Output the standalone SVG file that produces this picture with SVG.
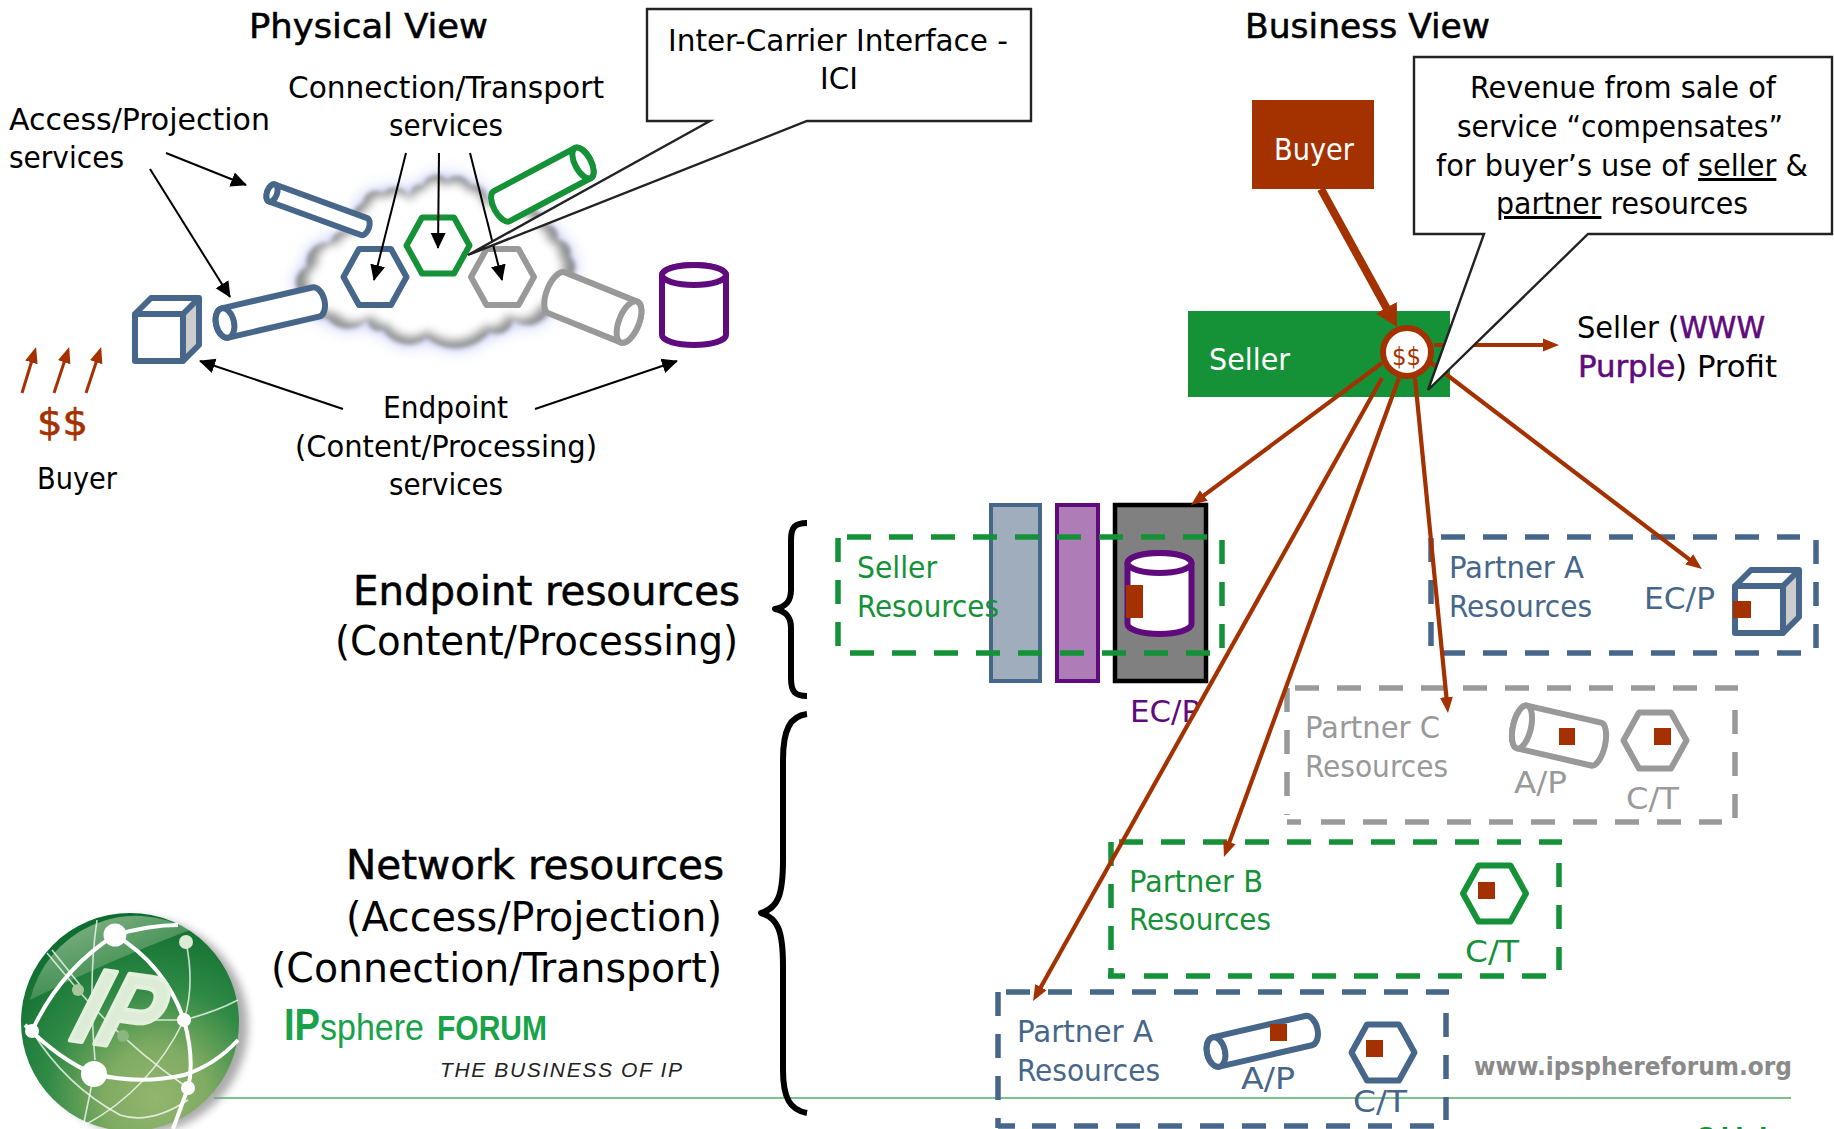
<svg xmlns="http://www.w3.org/2000/svg" width="1834" height="1129" viewBox="0 0 1834 1129">
<style>
text{font-family:"DejaVu Sans Condensed","DejaVu Sans","Liberation Sans",sans-serif;font-size:30px;fill:#000}
.h{font-size:34px;stroke:#000;stroke-width:.5}
.big{font-size:40px}
.bigb{font-size:40px;stroke:#000;stroke-width:.5}
.w{fill:#fff}
.r{fill:#a33200}
.gn{fill:#159138}
.bl{fill:#47678a}
.gy{fill:#999}
.pu{fill:#5f0a7d}
.sh{fill:none;stroke-width:6;stroke-linejoin:round}
.so{fill:#fff;stroke-width:6;stroke-linejoin:round}
.sgn{stroke:#159138}.sbl{stroke:#47678a}.sgy{stroke:#999}.spu{stroke:#5f0a7d}
.d{fill:none;stroke-width:5.5;stroke-dasharray:24 18}
.k{fill:none;stroke:#000;stroke-width:2}
.ka{marker-end:url(#mk)}
.ra{fill:none;stroke:#a33200;stroke-width:4.2;marker-end:url(#mr)}
.sq{fill:#a33200}
.co{fill:#fff;stroke:#222;stroke-width:2.4;stroke-linejoin:miter}
.br{fill:none;stroke:#000;stroke-width:6;stroke-linecap:butt;stroke-linejoin:round}
.gl{fill:none;stroke:#fff;stroke-width:4}
.gt{fill:none;stroke:#fff;stroke-width:1.6;opacity:.75}
</style>
<defs>
<marker id="mk" markerUnits="userSpaceOnUse" markerWidth="18" markerHeight="16" refX="15" refY="8" orient="auto"><path d="M0,0.5L16,8L0,15.5Z" fill="#000"/></marker>
<marker id="mr" markerUnits="userSpaceOnUse" markerWidth="18" markerHeight="15" refX="10" refY="7" orient="auto"><path d="M0,0.5L16,7L0,13.5Z" fill="#a33200"/></marker>
<marker id="mt" markerUnits="userSpaceOnUse" markerWidth="24" markerHeight="26" refX="10" refY="13" orient="auto"><path d="M0,1L22,13L0,25Z" fill="#a33200"/></marker>
<polygon id="hex" points="-31.5,0 -16,-28 16,-28 31.5,0 16,28 -16,28"/>
<path id="cub" d="M135,314H183V361H135ZM135,314L151,298H199V345L183,361M183,314L199,298"/>
<path id="cloud" d="M300,293A16 16 0 0 1 307,267A20 20 0 0 1 330,243A18 18 0 0 1 357,233A18 18 0 0 1 363,203A13 13 0 0 1 383,193A16 16 0 0 1 410,198A11 11 0 0 1 423,185A14 14 0 0 1 447,180A14 14 0 0 1 470,185A15 15 0 0 1 487,203A19 19 0 0 1 517,213A19 19 0 0 1 547,225A11 11 0 0 1 557,240A13 13 0 0 1 570,257A12 12 0 0 1 570,277A25 25 0 0 1 550,310A24 24 0 0 1 513,320A16 16 0 0 1 490,332A45 45 0 0 1 427,338A30 30 0 0 1 383,330A12 12 0 0 1 367,320A26 26 0 0 1 327,318A24 24 0 0 1 300,293Z"/>
<filter id="b8" x="-30%" y="-30%" width="160%" height="160%"><feGaussianBlur stdDeviation="8"/></filter>
<filter id="b5" x="-30%" y="-30%" width="160%" height="160%"><feGaussianBlur stdDeviation="5"/></filter>
<filter id="b4" x="-30%" y="-30%" width="160%" height="160%"><feGaussianBlur stdDeviation="4"/></filter>
<filter id="b1" x="-30%" y="-30%" width="160%" height="160%"><feGaussianBlur stdDeviation="2.2"/></filter>
<radialGradient id="gg" cx=".62" cy=".85" r=".85"><stop offset="0" stop-color="#93b56e"/><stop offset=".28" stop-color="#7fab62"/><stop offset=".6" stop-color="#2f8a45"/><stop offset="1" stop-color="#0d6c30"/></radialGradient>
<linearGradient id="gh" x1="0" y1="0" x2=".7" y2="1"><stop offset="0" stop-color="#c6dcb4" stop-opacity=".75"/><stop offset="1" stop-color="#c6dcb4" stop-opacity="0"/></linearGradient>
</defs>

<g id="green-rule"><line x1="214" y1="1098" x2="1791" y2="1098" stroke="#7cc48f" stroke-width="2"/></g>

<g id="logo">
<circle cx="140" cy="1026" r="108" fill="#888" filter="url(#b4)" opacity=".7"/>
<circle cx="130" cy="1022" r="109" fill="url(#gg)"/>
<path d="M30,1000A109 109 0 0 1 190,930Q110,960 30,1000Z" fill="url(#gh)"/>
<path class="gl" d="M25,1025Q60,1060 94,1074Q140,1085 184,1075Q215,1065 238,1040"/>
<path class="gl" d="M32,1031Q60,970 115,935Q150,925 178,925"/>
<path class="gl" d="M115,935Q165,965 184,1020Q195,1060 188,1088Q180,1110 173,1129"/>
<path class="gt" d="M186,942Q195,985 184,1020"/>
<path class="gt" d="M184,1020Q215,1012 238,1000"/>
<path class="gt" d="M184,1020Q150,1090 85,1125"/>
<path class="gt" d="M78,990Q125,1045 188,1088"/>
<path class="gt" d="M32,1031Q65,1085 120,1115Q150,1125 188,1100"/>
<path class="gt" d="M94,1074L83,1127"/>
<path class="gt" d="M47,953L78,990M52,950L80,985"/>
<path class="gt" d="M97,920Q88,980 95,1060"/>
<path class="gt" d="M140,1020H184"/>
<circle cx="78" cy="990" r="6" fill="#a8c79a"/><circle cx="123" cy="1036" r="6" fill="#8db57f"/>
<circle cx="115" cy="935" r="11.5" fill="#fff"/><circle cx="186" cy="942" r="7" fill="#dcebd2"/><circle cx="32" cy="1031" r="7" fill="#fff"/><circle cx="184" cy="1020" r="7" fill="#fff"/><circle cx="94" cy="1074" r="13" fill="#fff"/><circle cx="188" cy="1088" r="7" fill="#fff"/>
<text transform="translate(68,1040) rotate(8) skewX(-10)" textLength="84" lengthAdjust="spacingAndGlyphs" stroke="#e4f0de" stroke-width="4" stroke-linejoin="round" style="font-family:'Liberation Sans',sans-serif;font-size:108px;font-weight:700;font-style:italic;fill:#dcecd6">IP</text>
</g>

<g id="brand">
<text x="284" y="1040" textLength="36" lengthAdjust="spacingAndGlyphs" style="font-size:44px;font-weight:700;fill:#18a24a;font-family:'Liberation Sans',sans-serif">IP</text>
<text x="320" y="1040" textLength="104" lengthAdjust="spacingAndGlyphs" style="font-size:36px;fill:#18a24a;font-family:'Liberation Sans',sans-serif">sphere</text>
<text x="437" y="1040" textLength="110" lengthAdjust="spacingAndGlyphs" style="font-size:35px;font-weight:700;fill:#18a24a;font-family:'Liberation Sans',sans-serif">FORUM</text>
<text x="440" y="1077" textLength="242" lengthAdjust="spacing" style="font-size:21px;font-style:italic;fill:#222;font-family:'Liberation Sans',sans-serif">THE BUSINESS OF IP</text>
<text x="1474" y="1075" textLength="318" lengthAdjust="spacingAndGlyphs" style="font-family:'DejaVu Sans',sans-serif;font-size:25px;font-weight:700;fill:#8a8a8a">www.ipsphereforum.org</text>
<text x="1697" y="1147" textLength="93" lengthAdjust="spacing" style="font-size:27px;font-weight:700;fill:#159138">Slide</text>
</g>

<g id="cloud-node">
<use href="#cloud" fill="#b4bcf4" filter="url(#b8)"/>
<use href="#cloud" fill="#8f8f8f" filter="url(#b1)"/>
<use href="#cloud" fill="#fff" filter="url(#b5)" transform="translate(435,252) scale(.92) translate(-435,-252)"/>
</g>

<g id="phys-titles">
<text class="h" x="249" y="38" textLength="239" lengthAdjust="spacingAndGlyphs">Physical View</text>
<text x="288" y="98" textLength="316" lengthAdjust="spacingAndGlyphs">Connection/Transport</text>
<text x="389" y="136" textLength="114" lengthAdjust="spacingAndGlyphs">services</text>
<text x="9" y="130" textLength="261" lengthAdjust="spacingAndGlyphs">Access/Projection</text>
<text x="9" y="168" textLength="115" lengthAdjust="spacingAndGlyphs">services</text>
<text x="383" y="418" textLength="125" lengthAdjust="spacingAndGlyphs">Endpoint</text>
<text x="295" y="457" textLength="302" lengthAdjust="spacingAndGlyphs">(Content/Processing)</text>
<text x="389" y="495" textLength="114" lengthAdjust="spacingAndGlyphs">services</text>
</g>

<g id="phys-buyer">
<text class="r" x="37" y="435" textLength="51" lengthAdjust="spacingAndGlyphs" stroke="#a33200" stroke-width=".6" style="font-size:38px">$$</text>
<text x="37" y="489" textLength="80" lengthAdjust="spacingAndGlyphs">Buyer</text>
</g>

<g id="phys-cube"><path d="M183,314L199,298V345L183,361Z" fill="#ccc"/><path d="M135,314H183V361H135Z" fill="#fff"/><use href="#cub" class="sh sbl"/></g>
<g id="phys-cyl-small"><g transform="translate(272,193) rotate(20)" class="so sbl"><path d="M0,-9H98A5 9 0 0 1 98,9H0A5 9 0 0 1 0,-9Z"/><ellipse rx="5" ry="9"/></g></g>
<g id="phys-cyl-large"><g transform="translate(225,323) rotate(-13)" class="so sbl"><path d="M0,-15H93A9 15 0 0 1 93,15H0A9 15 0 0 1 0,-15Z"/><ellipse rx="9" ry="15"/></g></g>
<g id="phys-cyl-green"><g transform="translate(583,163) rotate(152)" class="so sgn"><path d="M0,-17H92A8 17 0 0 1 92,17H0A8 17 0 0 1 0,-17Z"/><ellipse rx="8" ry="17"/></g></g>
<g id="phys-cyl-gray"><g transform="translate(629,322) rotate(202)" class="so sgy"><path d="M0,-22H78A10 22 0 0 1 78,22H0A10 22 0 0 1 0,-22Z"/><ellipse rx="10" ry="22"/></g></g>
<g id="phys-can"><path class="so spu" d="M662,275V335A32 10 0 0 0 726,335V275A32 10 0 0 0 662,275Z"/><ellipse class="so spu" cx="694" cy="275" rx="32" ry="10"/></g>
<g id="phys-hex-blue"><use href="#hex" x="375" y="277" class="so sbl"/></g>
<g id="phys-hex-green"><use href="#hex" x="438" y="245.500" class="so sgn"/></g>
<g id="phys-hex-gray"><use href="#hex" x="502.500" y="277" class="so sgy"/></g>

<g id="phys-connectors">
<line class="k ka" x1="166" y1="153" x2="246" y2="185"/>
<line class="k ka" x1="150" y1="169" x2="230" y2="297"/>
<line class="k ka" x1="406" y1="153" x2="374" y2="280"/>
<line class="k ka" x1="439" y1="153" x2="438" y2="248"/>
<line class="k ka" x1="470" y1="153" x2="502" y2="280"/>
<line class="k ka" x1="343" y1="409" x2="200" y2="361"/>
<line class="k ka" x1="535" y1="409" x2="677" y2="361"/>
<line class="ra" style="stroke-width:3" x1="22" y1="393" x2="34.300" y2="352.800"/>
<line class="ra" style="stroke-width:3" x1="54" y1="393" x2="67.300" y2="352.800"/>
<line class="ra" style="stroke-width:3" x1="86" y1="393" x2="99.300" y2="352.800"/>
</g>

<g id="ici-callout">
<path class="co" d="M647,9H1031V121H807L468,255L710,121H647Z"/>
<text x="668" y="51" textLength="340" lengthAdjust="spacingAndGlyphs">Inter-Carrier Interface -</text>
<text x="820" y="89" textLength="38" lengthAdjust="spacingAndGlyphs">ICI</text>
</g>

<g id="side-labels">
<text class="bigb" x="353" y="605" textLength="387" lengthAdjust="spacingAndGlyphs">Endpoint resources</text>
<text class="big" x="335" y="655" textLength="403" lengthAdjust="spacingAndGlyphs">(Content/Processing)</text>
<text class="bigb" x="346" y="879" textLength="378" lengthAdjust="spacingAndGlyphs">Network resources</text>
<text class="big" x="346" y="931" textLength="376" lengthAdjust="spacingAndGlyphs">(Access/Projection)</text>
<text class="big" x="271" y="982" textLength="451" lengthAdjust="spacingAndGlyphs">(Connection/Transport)</text>
<path class="br" d="M807,523C795,523 791,527 791,540V590C791,602 785,607 775,609C785,611 791,616 791,628V678C791,692 795,696 807,696"/>
<path class="br" d="M807,714C790,716 783,730 783,760V860C783,895 778,908 761,913C778,918 783,931 783,966V1070C783,1098 790,1110 807,1113"/>
</g>

<text class="h" x="1245" y="38" textLength="245" lengthAdjust="spacingAndGlyphs">Business View</text>

<g id="buyer"><rect x="1252" y="100" width="122" height="89" fill="#a33200"/><text class="w" x="1274" y="160" textLength="80" lengthAdjust="spacingAndGlyphs">Buyer</text></g>
<g id="seller"><rect x="1188" y="311" width="262" height="86" fill="#159138"/><text class="w" x="1209" y="370" textLength="81" lengthAdjust="spacingAndGlyphs">Seller</text></g>
<g id="profit-label"><text x="1577" y="338" textLength="188" lengthAdjust="spacingAndGlyphs">Seller (<tspan class="pu" stroke="#5f0a7d" stroke-width=".5">WWW</tspan></text>
<text x="1578" y="377" textLength="199" lengthAdjust="spacingAndGlyphs"><tspan class="pu" stroke="#5f0a7d" stroke-width=".5">Purple</tspan>) Profit</text></g>

<g id="seller-resources">
<rect x="991" y="505" width="49" height="176" fill="#9fadbc" stroke="#47678a" stroke-width="4"/>
<rect x="1057" y="505" width="41" height="176" fill="#ae7db8" stroke="#5f0a7d" stroke-width="4"/>
<rect x="1115" y="505" width="91" height="176" fill="#808080" stroke="#000" stroke-width="4.500"/>
<path class="so spu" d="M1127.500,563V624A32 10 0 0 0 1191.500,624V563A32 10 0 0 0 1127.500,563Z"/><ellipse class="so spu" cx="1159.500" cy="563" rx="32" ry="10"/>
<rect class="sq" x="1126" y="585" width="17" height="33"/>
<path class="d sgn" d="M847,537H1210M1222,540V653M850,653H1210M838,538V653"/>
<text class="gn" x="857" y="578" textLength="80" lengthAdjust="spacingAndGlyphs">Seller</text>
<text class="gn" x="857" y="617" textLength="142" lengthAdjust="spacingAndGlyphs">Resources</text>
<text class="pu" x="1130" y="722" textLength="70" lengthAdjust="spacingAndGlyphs">EC/P</text>
</g>

<g id="partner-a-ec">
<path class="d sbl" d="M1441,537H1800M1816,540V653M1441,653H1802M1431,538V653"/>
<text class="bl" x="1449" y="578" textLength="135" lengthAdjust="spacingAndGlyphs">Partner A</text>
<text class="bl" x="1449" y="617" textLength="143" lengthAdjust="spacingAndGlyphs">Resources</text>
<text class="bl" x="1644" y="609" textLength="71" lengthAdjust="spacingAndGlyphs">EC/P</text>
<g transform="translate(1600,272)"><path d="M183,314L199,298V345L183,361Z" fill="#ccc"/><path d="M135,314H183V361H135Z" fill="#fff"/><use href="#cub" class="sh sbl"/></g>
<rect class="sq" x="1733" y="601" width="18" height="17"/>
</g>

<g id="partner-c">
<path class="d sgy" d="M1295,688H1738M1735,710V820M1321,822H1722M1287,688V815"/>
<path class="d sgy" style="stroke-dasharray:14 100" d="M1287,822H1310"/>
<text class="gy" x="1305" y="738" textLength="135" lengthAdjust="spacingAndGlyphs">Partner C</text>
<text class="gy" x="1305" y="777" textLength="143" lengthAdjust="spacingAndGlyphs">Resources</text>
<g transform="translate(1522,727) rotate(13)" class="so sgy"><path d="M0,-22H76A9 22 0 0 1 76,22H0A9 22 0 0 1 0,-22Z"/><ellipse rx="9" ry="22"/></g>
<rect class="sq" x="1559" y="728" width="16" height="17"/>
<use href="#hex" x="1655" y="740.500" class="so sgy"/>
<rect class="sq" x="1654" y="728" width="17" height="17"/>
<text class="gy" x="1514" y="793" textLength="53" lengthAdjust="spacingAndGlyphs">A/P</text>
<text class="gy" x="1626" y="809" textLength="53" lengthAdjust="spacingAndGlyphs">C/T</text>
</g>

<g id="partner-b">
<path class="d sgn" d="M1119,842H1562M1559,863V970M1144,976H1546M1111,842V950"/>
<path class="d sgn" style="stroke-dasharray:17 100" d="M1108,976H1125M1111,968V978"/>
<text class="gn" x="1129" y="892" textLength="134" lengthAdjust="spacingAndGlyphs">Partner B</text>
<text class="gn" x="1129" y="930" textLength="142" lengthAdjust="spacingAndGlyphs">Resources</text>
<use href="#hex" x="1494.500" y="893.500" class="so sgn"/>
<rect class="sq" x="1478" y="882" width="17" height="17"/>
<text class="gn" x="1465" y="962" textLength="54" lengthAdjust="spacingAndGlyphs">C/T</text>
</g>

<g id="partner-a-net">
<path class="d sbl" d="M1006,992H1449M1446,1013V1120M1032,1126H1434M998,992V1100"/>
<path class="d sbl" style="stroke-dasharray:17 100" d="M998,1126H1015M998,1118V1128"/>
<text class="bl" x="1017" y="1042" textLength="136" lengthAdjust="spacingAndGlyphs">Partner A</text>
<text class="bl" x="1017" y="1081" textLength="143" lengthAdjust="spacingAndGlyphs">Resources</text>
<g transform="translate(1216,1052) rotate(-13)" class="so sbl"><path d="M0,-15H95A9 15 0 0 1 95,15H0A9 15 0 0 1 0,-15Z"/><ellipse rx="9" ry="15"/></g>
<rect class="sq" x="1270" y="1024" width="17" height="17"/>
<use href="#hex" x="1383" y="1052.500" class="so sbl"/>
<rect class="sq" x="1366" y="1040" width="17" height="17"/>
<text class="bl" x="1241" y="1089" textLength="54" lengthAdjust="spacingAndGlyphs">A/P</text>
<text class="bl" x="1353" y="1112" textLength="54" lengthAdjust="spacingAndGlyphs">C/T</text>
</g>

<g id="connectors">
<line x1="1321" y1="189" x2="1391.200" y2="316.500" stroke="#a33200" stroke-width="8" marker-end="url(#mt)"/>
<line class="ra" x1="1434" y1="345" x2="1553" y2="345"/>
<line class="ra" x1="1382" y1="363" x2="1195.800" y2="501.400"/>
<line class="ra" x1="1382" y1="378" x2="1036" y2="995.800"/>
<line class="ra" x1="1399" y1="378" x2="1226" y2="851.400"/>
<line class="ra" x1="1415" y1="378" x2="1447.400" y2="707"/>
<line class="ra" x1="1430" y1="362" x2="1697.200" y2="565.400"/>
</g>

<g id="money-node">
<circle cx="1407" cy="352" r="24" fill="#fff" stroke="#a33200" stroke-width="6"/>
<text class="r" x="1392" y="365" textLength="29" lengthAdjust="spacingAndGlyphs" style="font-size:24px">$$</text>
</g>

<g id="revenue-callout">
<path class="co" d="M1414,57H1832V234H1588L1428,390L1484,234H1414Z"/>
<text x="1470" y="98" textLength="306" lengthAdjust="spacingAndGlyphs">Revenue from sale of</text>
<text x="1457" y="137" textLength="326" lengthAdjust="spacingAndGlyphs">service “compensates”</text>
<text x="1436" y="176" textLength="372" lengthAdjust="spacingAndGlyphs">for buyer’s use of <tspan text-decoration="underline">seller</tspan> &amp;</text>
<text x="1496" y="214" textLength="252" lengthAdjust="spacingAndGlyphs"><tspan text-decoration="underline">partner</tspan> resources</text>
</g>
</svg>
